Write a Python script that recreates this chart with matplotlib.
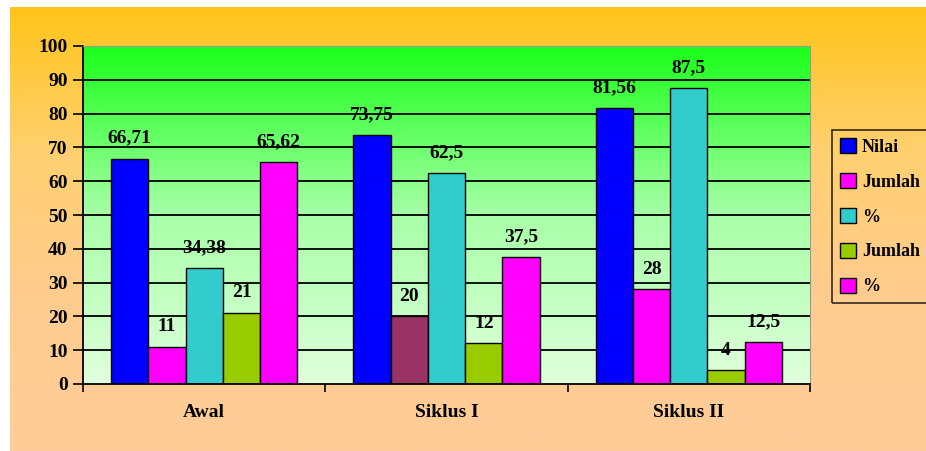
import numpy as np
import matplotlib
matplotlib.use("Agg")
import matplotlib.pyplot as plt
from matplotlib.colors import LinearSegmentedColormap
from matplotlib.patches import Patch, Rectangle

# data
groups = ['Awal', 'Siklus I', 'Siklus II']
series_names = ['Nilai', 'Jumlah', '%', 'Jumlah', '%']
nilai = [66.71, 73.75, 81.56]
jumlah_a = [11, 20, 28]
persen_a = [34.38, 62.5, 87.5]
jumlah_b = [21, 12, 4]
persen_b = [65.62, 37.5, 12.5]
labels_nilai = ['66,71', '73,75', '81,56']
labels_persen_a = ['34,38', '62,5', '87,5']
labels_persen_b = ['65,62', '37,5', '12,5']

colors = ['#0000FF', '#FF00FF', '#33CCCC', '#99CC00', '#FF00FF']
odd_bar_color = '#993366'   # Siklus I "Jumlah" bar has its own colour

plt.rcParams['font.family'] = ['Liberation Serif', 'DejaVu Serif']
plt.rcParams['font.weight'] = 'bold'

fig = plt.figure(figsize=(9.26, 4.51), dpi=100)
fig.patch.set_facecolor('#FFCC99')

# orange background gradient
bg = fig.add_axes([0, 0, 1, 1], zorder=-10)
orange = LinearSegmentedColormap.from_list('o', ['#FFCC99', '#FFCC90', '#FFD070', '#FFC414'])
bg.imshow(np.linspace(0, 1, 256).reshape(-1, 1), aspect='auto', cmap=orange,
          origin='lower', extent=[0, 1, 0, 1])
bg.set_xlim(0, 1)
bg.set_ylim(0, 1)
bg.axis('off')
# white strip on top and left of the picture
bg.add_patch(Rectangle((0, 0), 10 / 926, 1, color='white', lw=0))
bg.add_patch(Rectangle((0, 1 - 7 / 451), 1, 7 / 451, color='white', lw=0))

ax = fig.add_axes([83 / 926, 1 - 384 / 451, (810 - 83) / 926, (384 - 46) / 451])
ax.set_facecolor('none')
green = LinearSegmentedColormap.from_list('g', ['#E0FFDC', '#A8FFA8', '#19FF19'])
ax.imshow(np.linspace(0, 1, 256).reshape(-1, 1), aspect='auto', cmap=green,
          origin='lower', extent=[-0.5, 2.5, 0, 100], zorder=0)

x = np.arange(len(groups))
width = 1 / 6.5
all_vals = [nilai, jumlah_a, persen_a, jumlah_b, persen_b]
all_labels = [labels_nilai, [str(v) for v in jumlah_a], labels_persen_a,
              [str(v) for v in jumlah_b], labels_persen_b]

for gy in range(10, 100, 10):
    ax.axhline(gy, color='black', lw=1.3, zorder=1)

for i, vals in enumerate(all_vals):
    pos = x + (i - 2) * width
    bars = ax.bar(pos, vals, width, color=colors[i], edgecolor='black',
                  linewidth=1, zorder=2)
    if i == 1:
        bars[1].set_facecolor(odd_bar_color)
    for b, txt in zip(bars, all_labels[i]):
        ax.text(b.get_x() + b.get_width() / 2, b.get_height() + 3.5, txt,
                ha='center', va='bottom', fontsize=14, fontweight='bold', zorder=3)

ax.set_xlim(-0.5, 2.5)
ax.set_ylim(0, 100)
ax.set_yticks(range(0, 101, 10))
ax.set_xticks([-0.5, 0.5, 1.5, 2.5])
ax.set_xticklabels([])
ax.tick_params(axis='y', direction='out', length=7, width=1.2, labelsize=14, pad=4)
ax.tick_params(axis='x', direction='out', length=6, width=1.2)
for lab in ax.get_yticklabels():
    lab.set_fontweight('bold')
for gx, name in zip(x, groups):
    ax.text(gx, -8.5, name, ha='center', va='center', fontsize=14, fontweight='bold')

ax.spines['left'].set_linewidth(1.3)
ax.spines['bottom'].set_linewidth(1.3)
ax.spines['top'].set_color('#999999')
ax.spines['right'].set_color('#999999')

handles = [Patch(facecolor=c, edgecolor='black') for c in colors]
leg = fig.legend(handles, series_names, loc='upper left',
                 bbox_to_anchor=(832 / 926, 1 - 130 / 451), frameon=True,
                 fontsize=13, handlelength=0.9, handleheight=0.9,
                 handletextpad=0.3, labelspacing=0.95, borderpad=0.45,
                 borderaxespad=0, fancybox=False)
leg.get_frame().set_edgecolor('black')
leg.get_frame().set_facecolor('none')
leg.get_frame().set_linewidth(1.2)
for t in leg.get_texts():
    t.set_fontweight('bold')

fig.savefig('out.png', dpi=100)
